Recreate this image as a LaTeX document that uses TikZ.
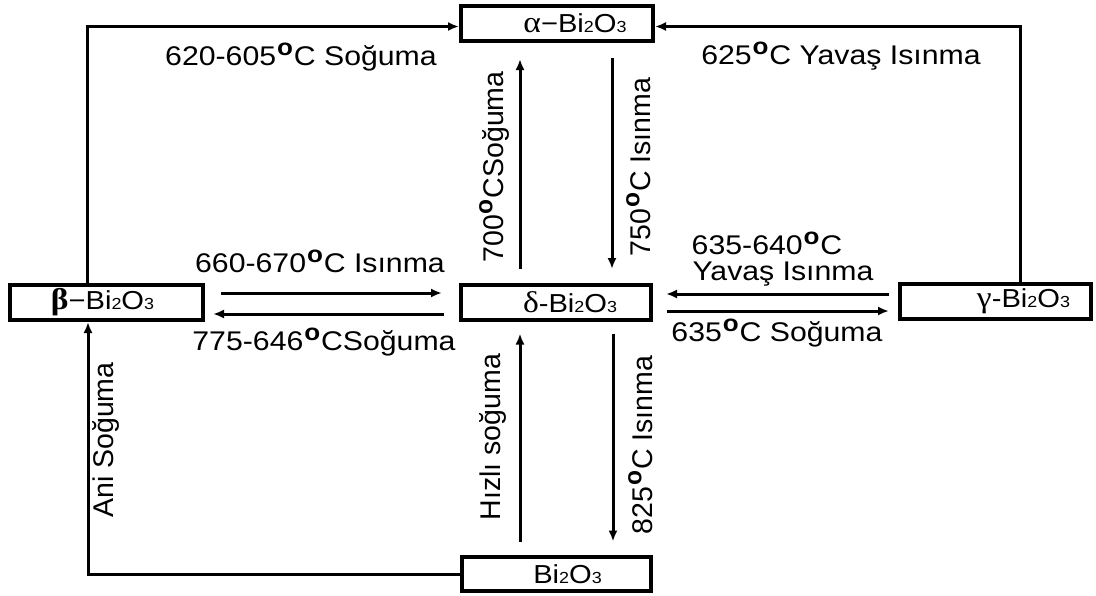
\documentclass[tikz,border=0pt]{standalone}
\usepackage{fontspec}
\setmainfont{Liberation Sans}
\newfontfamily\grk{Liberation Serif}
\usepackage{graphicx}
\usetikzlibrary{arrows.meta,calc}
\newcommand\dg{\kern0.03em\raisebox{0.37em}{\bfseries\scalebox{0.86}{o}}\kern0.03em}
\newcommand\hs[1]{\scalebox{1.12}[1]{#1}}
\newcommand\bx[1]{\scalebox{1.12}[1]{#1}}
\newcommand\sbs[1]{{\fontsize{16}{16}\selectfont #1}}
\newcommand\gk[1]{{\grk\fontsize{30}{30}\selectfont #1}}
\begin{document}
\begin{tikzpicture}[x=1pt,y=-1pt,
  box/.style={draw,line width=4pt,minimum height=35pt,inner sep=0pt,font=\fontsize{26}{26}\selectfont},
  arr/.style={line width=3pt,-{Latex[length=11pt,width=9pt]}},
  hl/.style={anchor=base,inner sep=0pt,font=\fontsize{27}{27}\selectfont},
  vl/.style={anchor=base,rotate=90,inner sep=0pt,font=\fontsize{28.5}{28.5}\selectfont}]
\useasboundingbox (0,0) rectangle (1096,595);
\fill[white] (0,0) rectangle (1096,595);

\node[box,minimum width=192pt] (alpha) at (557,23.5) {\hspace*{36pt}\bx{\gk{α}−Bi\sbs{2}O\sbs{3}}};
\node[box,minimum width=193pt] (beta) at (106.5,302.5) {\bx{\gk{\bfseries β}−Bi\sbs{2}O\sbs{3}}\hspace*{8pt}};
\node[box,minimum width=190pt] (delta) at (556,302.5) {\hspace*{28pt}\bx{\gk{δ}-Bi\sbs{2}O\sbs{3}}};
\node[box,minimum width=191pt] (gamma) at (995.5,301.5) {\hspace*{56pt}\bx{\gk{γ}-Bi\sbs{2}O\sbs{3}}};
\node[box,minimum width=189pt,minimum height=34pt] (bi) at (556.5,574) {\hspace*{22pt}\bx{Bi\sbs{2}O\sbs{3}}};

\draw[arr] ([xshift=-19.5pt]beta.north) |- ([yshift=-3pt]alpha.west);
\draw[arr] ([xshift=24.5pt]gamma.north) |- ([yshift=-3pt]alpha.east);
\draw[arr] (bi.west) -| ([xshift=-18.5pt]beta.south);

\draw[arr] ($(delta.north)+(-36,-14)$) -- ($(alpha.south)+(-37,16)$);
\draw[arr] ($(alpha.south)+(55,15)$) -- ($(delta.north)+(56,-14)$);

\draw[arr] ($(beta.east)+(16,-9.5)$) -- ($(delta.west)+(-17,-9.5)$);
\draw[arr] ($(delta.west)+(-15,11.5)$) -- ($(beta.east)+(8,11.5)$);

\draw[arr] ($(gamma.west)+(-9,-7.5)$) -- ($(delta.east)+(13,-8.5)$);
\draw[arr] ($(delta.east)+(14,8.5)$) -- ($(gamma.west)+(-9,9.5)$);

\draw[arr] ($(bi.north)+(-36.5,-13.5)$) -- ($(delta.south)+(-36,11.5)$);
\draw[arr] ($(delta.south)+(57,11.5)$) -- ($(bi.north)+(56.5,-13.5)$);

\node[hl] (l1) at (301,65) {\hs{620-605\dg C Soğuma}};
\node[hl] (l2) at (841,64) {\hs{625\dg C Yavaş Isınma}};
\node[hl] (l3) at (320,272) {\hs{660-670\dg C Isınma}};
\node[hl] (l4) at (324,350) {\hs{775-646\dg CSoğuma}};
\node[hl] (l5) at (767,254) {\hs{635-640\dg C}};
\node[hl] (l6) at (783,280) {\hs{Yavaş Isınma}};
\node[hl] (l7) at (777,341) {\hs{635\dg C Soğuma}};

\node[vl] (v1) at (503,167) {700\dg CSoğuma};
\node[vl] (v2) at (650,167) {750\dg C Isınma};
\node[vl] (v3) at (500,437) {Hızlı soğuma};
\node[vl] (v4) at (652,445) {825\dg C Isınma};
\node[vl] (v5) at (113,440) {Ani Soğuma};
\end{tikzpicture}
\end{document}
